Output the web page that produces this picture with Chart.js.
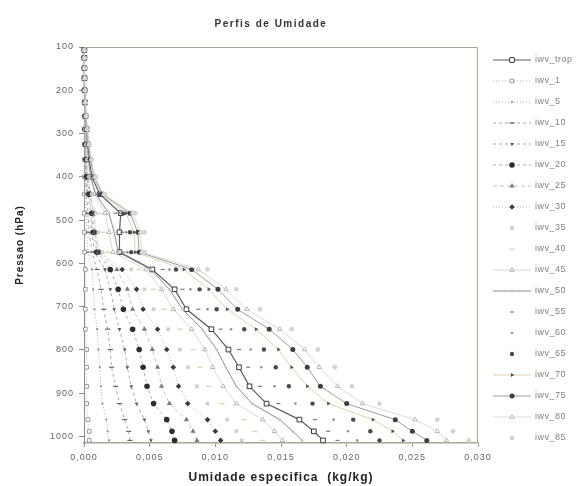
<!DOCTYPE html>
<html>
<head>
<meta charset="utf-8">
<script src="https://cdn.jsdelivr.net/npm/chart.js@4.4.1/dist/chart.umd.min.js"></script>
<style>
html, body { margin: 0; padding: 0; background: #fff; }
canvas { display: block; }
</style>
</head>
<body>
<canvas id="grafico" width="581" height="486"></canvas>
<script>
// niveis de pressao (hPa) comuns a todos os perfis
const niveis = [1009, 988, 961, 924, 884, 840, 799, 752, 706, 660, 614,
                574, 528, 484, 440, 400, 360, 325, 290, 260, 228, 200, 172, 149, 125, 107];

// umidade especifica (kg/kg), um valor por nivel
const iwvTrop = [0.0182, 0.0175, 0.0164, 0.0139, 0.0126, 0.0118, 0.0110, 0.0097, 0.0078, 0.0069, 0.0052,
                 0.0027, 0.0027, 0.0028, 0.0012, 0.0006, 0.0004, 0.0003, 0.0002, 0.00012, 0.00008, 0.00005, 0.00004, 0.00003, 0.00003, 0.00003];
const iwv1 = [0.0004, 0.0004, 0.0003, 0.0002, 0.0002, 0.0002, 0.0002, 0.0001, 0.0001, 0.0001, 0.0001,
              0.00005, 0.00004, 0.00003, 0.00003, 0.00002, 0.00002, 0.00002, 0.00002, 0.00002, 0.00002, 0.00002, 0.00002, 0.00002, 0.00002, 0.00002];
const iwv5 = [0.0019, 0.0018, 0.0017, 0.0014, 0.0013, 0.0012, 0.0011, 0.0010, 0.0008, 0.0007, 0.0006,
              0.0003, 0.0002, 0.0002, 0.0001, 0.0001, 0.00008, 0.00006, 0.00005, 0.00004, 0.00003, 0.00003, 0.00003, 0.00002, 0.00002, 0.00002];
const iwv10 = [0.0035, 0.0034, 0.0031, 0.0027, 0.0024, 0.0021, 0.0020, 0.0018, 0.0015, 0.0013, 0.0010,
               0.0006, 0.0004, 0.0003, 0.0002, 0.00012, 0.0001, 0.00008, 0.00006, 0.00005, 0.00004, 0.00003, 0.00003, 0.00002, 0.00002, 0.00002];
const iwv15 = [0.0051, 0.0049, 0.0046, 0.0040, 0.0036, 0.0033, 0.0031, 0.0027, 0.0023, 0.0020, 0.0016,
               0.0008, 0.0006, 0.0005, 0.0003, 0.00018, 0.00013, 0.0001, 0.00008, 0.00006, 0.00005, 0.00004, 0.00003, 0.00003, 0.00002, 0.00002];
const iwv20 = [0.0069, 0.0067, 0.0063, 0.0053, 0.0048, 0.0045, 0.0042, 0.0037, 0.0030, 0.0026, 0.0020,
               0.0010, 0.0007, 0.0006, 0.0004, 0.0002, 0.00015, 0.00011, 0.00009, 0.00007, 0.00005, 0.00004, 0.00003, 0.00003, 0.00002, 0.00002];
const iwv25 = [0.0086, 0.0083, 0.0078, 0.0065, 0.0059, 0.0056, 0.0052, 0.0046, 0.0037, 0.0033, 0.0025,
               0.0011, 0.0008, 0.0007, 0.0005, 0.0003, 0.00018, 0.00013, 0.0001, 0.00008, 0.00006, 0.00004, 0.00003, 0.00003, 0.00002, 0.00002];
const iwv30 = [0.0104, 0.0100, 0.0094, 0.0079, 0.0072, 0.0068, 0.0063, 0.0056, 0.0045, 0.0040, 0.0029,
               0.0012, 0.0009, 0.0008, 0.0005, 0.0003, 0.0002, 0.00015, 0.00011, 0.00008, 0.00006, 0.00005, 0.00004, 0.00003, 0.00002, 0.00002];
const iwv35 = [0.0120, 0.0116, 0.0109, 0.0094, 0.0086, 0.0079, 0.0073, 0.0064, 0.0053, 0.0046, 0.0036,
               0.0014, 0.0011, 0.0009, 0.0006, 0.0004, 0.00025, 0.00017, 0.00012, 0.00009, 0.00006, 0.00005, 0.00004, 0.00003, 0.00002, 0.00002];
const iwv40 = [0.0136, 0.0130, 0.0122, 0.0105, 0.0095, 0.0088, 0.0083, 0.0073, 0.0061, 0.0053, 0.0042,
               0.0018, 0.0015, 0.0012, 0.0007, 0.0004, 0.00028, 0.0002, 0.00014, 0.0001, 0.00007, 0.00005, 0.00004, 0.00003, 0.00003, 0.00002];
const iwv45 = [0.0151, 0.0145, 0.0136, 0.0116, 0.0106, 0.0098, 0.0092, 0.0082, 0.0068, 0.0059, 0.0047,
               0.0022, 0.0019, 0.0016, 0.0008, 0.0005, 0.0003, 0.00022, 0.00015, 0.0001, 0.00007, 0.00005, 0.00004, 0.00003, 0.00003, 0.00002];
const iwv50 = [0.0166, 0.0159, 0.0149, 0.0128, 0.0116, 0.0108, 0.0101, 0.0090, 0.0075, 0.0065, 0.0051,
               0.0026, 0.0023, 0.0019, 0.0009, 0.0005, 0.00035, 0.00025, 0.00017, 0.00011, 0.00008, 0.00006, 0.00004, 0.00003, 0.00003, 0.00002];
const iwv55 = [0.0193, 0.0186, 0.0176, 0.0148, 0.0134, 0.0125, 0.0118, 0.0104, 0.0087, 0.0075, 0.0060,
               0.0030, 0.0029, 0.0024, 0.0010, 0.0006, 0.0004, 0.00028, 0.00019, 0.00012, 0.00008, 0.00006, 0.00005, 0.00004, 0.00003, 0.00002];
const iwv60 = [0.0208, 0.0201, 0.0190, 0.0161, 0.0145, 0.0135, 0.0127, 0.0112, 0.0094, 0.0081, 0.0065,
               0.0033, 0.0032, 0.0027, 0.0011, 0.0006, 0.0004, 0.0003, 0.0002, 0.00013, 0.00009, 0.00006, 0.00005, 0.00004, 0.00003, 0.00002];
const iwv65 = [0.0225, 0.0218, 0.0205, 0.0174, 0.0156, 0.0146, 0.0137, 0.0122, 0.0101, 0.0088, 0.0070,
               0.0036, 0.0035, 0.0030, 0.0012, 0.0007, 0.00045, 0.00032, 0.00021, 0.00014, 0.00009, 0.00007, 0.00005, 0.00004, 0.00003, 0.00002];
const iwv70 = [0.0243, 0.0235, 0.0220, 0.0186, 0.0170, 0.0158, 0.0148, 0.0131, 0.0109, 0.0095, 0.0076,
               0.0039, 0.0038, 0.0032, 0.0013, 0.0007, 0.0005, 0.00034, 0.00022, 0.00015, 0.0001, 0.00007, 0.00005, 0.00004, 0.00003, 0.00002];
const iwv75 = [0.0261, 0.0250, 0.0237, 0.0200, 0.0180, 0.0170, 0.0159, 0.0141, 0.0117, 0.0102, 0.0082,
               0.0042, 0.0041, 0.0035, 0.0014, 0.0008, 0.0005, 0.00036, 0.00024, 0.00016, 0.0001, 0.00007, 0.00005, 0.00004, 0.00003, 0.00002];
const iwv80 = [0.0276, 0.0269, 0.0252, 0.0212, 0.0193, 0.0179, 0.0168, 0.0149, 0.0124, 0.0108, 0.0087,
               0.0044, 0.0043, 0.0037, 0.0015, 0.0008, 0.00055, 0.00038, 0.00025, 0.00017, 0.00011, 0.00008, 0.00006, 0.00004, 0.00003, 0.00002];
const iwv85 = [0.0293, 0.0281, 0.0269, 0.0225, 0.0204, 0.0191, 0.0178, 0.0158, 0.0134, 0.0116, 0.0094,
               0.0046, 0.0046, 0.0039, 0.0016, 0.0009, 0.0006, 0.0004, 0.00026, 0.00018, 0.00012, 0.00008, 0.00006, 0.00005, 0.00004, 0.00003];

const nomes = ['iwv_trop', 'iwv_1', 'iwv_5', 'iwv_10', 'iwv_15', 'iwv_20', 'iwv_25', 'iwv_30', 'iwv_35', 'iwv_40',
               'iwv_45', 'iwv_50', 'iwv_55', 'iwv_60', 'iwv_65', 'iwv_70', 'iwv_75', 'iwv_80', 'iwv_85'];
const perfis = [iwvTrop, iwv1, iwv5, iwv10, iwv15, iwv20, iwv25, iwv30, iwv35, iwv40,
                iwv45, iwv50, iwv55, iwv60, iwv65, iwv70, iwv75, iwv80, iwv85];

const ticksX = [0, 0.005, 0.010, 0.015, 0.020, 0.025, 0.030];
const ticksY = [100, 200, 300, 400, 500, 600, 700, 800, 900, 1000];

// aparencia de cada serie (linha: null = so marcadores)
const estilos = [
    { linha: '#5c5c5c', larg: 1.2, traco: [],     ponto: 'rect',     raio: 3.3, fundo: '#ffffff', borda: '#3a3a3a', bl: 1 },
    { linha: '#b8b8b8', larg: 1,   traco: [1, 2], ponto: 'rect',     raio: 2.6, fundo: '#ffffff', borda: '#9a9a9a', bl: 1 },
    { linha: '#b0b0b0', larg: 1,   traco: [1, 2], ponto: 'circle',   raio: 1.1, fundo: '#8a8a8a', borda: '#8a8a8a', bl: 0 },
    { linha: '#a8a8a8', larg: 1,   traco: [3, 3], ponto: 'line',     raio: 2.6, fundo: '#666666', borda: '#666666', bl: 1.2 },
    { linha: '#a8a8a8', larg: 1,   traco: [3, 3], ponto: 'triangle', raio: 2.2, fundo: '#5a5a5a', borda: '#5a5a5a', bl: 0, rot: 180 },
    { linha: '#b0b0b0', larg: 1,   traco: [3, 3], ponto: 'circle',   raio: 2.8, fundo: '#2e2e2e', borda: '#2e2e2e', bl: 0 },
    { linha: '#c4c4c4', larg: 1,   traco: [4, 3], ponto: 'triangle', raio: 3,   fundo: '#7a7a7a', borda: '#7a7a7a', bl: 0 },
    { linha: '#b4b4b4', larg: 1,   traco: [1, 2], ponto: 'rectRot',  raio: 2.8, fundo: '#3c3c3c', borda: '#3c3c3c', bl: 0 },
    { linha: null,                                ponto: 'rect',     raio: 2.6, fundo: '#cfcfcf', borda: '#cfcfcf', bl: 0 },
    { linha: null,                                ponto: 'line',     raio: 2.6, fundo: '#d6d2b0', borda: '#d6d2b0', bl: 1.2 },
    { linha: '#cfcfcf', larg: 0.8, traco: [],     ponto: 'triangle', raio: 2.6, fundo: '#ffffff', borda: '#b4b4b4', bl: 1 },
    { linha: '#8a8aa0', larg: 1,   traco: [],     ponto: 'circle',   raio: 1.5, fundo: '#c8c8c8', borda: '#c8c8c8', bl: 0 },
    { linha: null,                                ponto: 'line',     raio: 2,   fundo: '#7a7a7a', borda: '#7a7a7a', bl: 1.2 },
    { linha: null,                                ponto: 'circle',   raio: 1.3, fundo: '#8e8e8e', borda: '#8e8e8e', bl: 0 },
    { linha: null,                                ponto: 'circle',   raio: 2.2, fundo: '#4a4a4a', borda: '#4a4a4a', bl: 0 },
    { linha: '#dcd4a8', larg: 1,   traco: [],     ponto: 'triangle', raio: 2.3, fundo: '#4e4e4e', borda: '#4e4e4e', bl: 0, rot: 90 },
    { linha: '#9c9c9c', larg: 1,   traco: [],     ponto: 'circle',   raio: 2.5, fundo: '#3e3e3e', borda: '#3e3e3e', bl: 0 },
    { linha: '#d0d0dc', larg: 0.8, traco: [],     ponto: 'triangle', raio: 2.6, fundo: '#ffffff', borda: '#b8b8b8', bl: 1 },
    { linha: null,                                ponto: 'circle',   raio: 2.4, fundo: '#d4d4d4', borda: '#d4d4d4', bl: 0 }
];

const conjuntos = perfis.map(function(serie, i) {
    const e = estilos[i];
    return {
        label: nomes[i],
        data: serie.map(function(q, k) { return { x: q, y: niveis[k] }; }),
        showLine: e.linha !== null,
        borderColor: e.linha || 'rgba(0,0,0,0)',
        borderWidth: e.larg || 0,
        borderDash: e.traco || [],
        pointStyle: e.ponto,
        pointRadius: e.raio,
        pointRotation: e.rot || 0,
        pointBackgroundColor: e.fundo,
        pointBorderColor: e.borda,
        pointBorderWidth: e.bl,
        tension: 0,
        fill: false,
        clip: false,
        order: -i   // como no Excel: a ultima serie fica por cima
    };
});

const fonte = '"Liberation Sans", Arial, sans-serif';

const moldura = {
    id: 'moldura',
    beforeDraw(chart) {
        chart.ctx.letterSpacing = '1px';
    },
    afterDraw(chart) {
        const ctx = chart.ctx;
        const a = chart.chartArea;
        ctx.save();
        ctx.strokeStyle = '#a9a796';
        ctx.lineWidth = 1;
        ctx.beginPath();
        ctx.moveTo(a.left, a.top + 0.5);
        ctx.lineTo(a.right - 0.5, a.top + 0.5);
        ctx.lineTo(a.right - 0.5, a.bottom);
        ctx.stroke();

        // titulo
        ctx.letterSpacing = '1.5px';
        ctx.fillStyle = '#333';
        ctx.font = 'bold 10px ' + fonte;
        ctx.textAlign = 'center';
        ctx.textBaseline = 'middle';
        ctx.fillText('Perfis de Umidade', 271, 24);

        // legenda
        ctx.letterSpacing = '0.5px';
        ctx.textAlign = 'left';
        ctx.font = '9px ' + fonte;
        chart.data.datasets.forEach(function(ds, i) {
            const y = 60 + i * 21;
            if (ds.showLine) {
                ctx.strokeStyle = ds.borderColor;
                ctx.lineWidth = ds.borderWidth;
                ctx.setLineDash(ds.borderDash);
                ctx.beginPath();
                ctx.moveTo(493, y);
                ctx.lineTo(531, y);
                ctx.stroke();
            }
            ctx.setLineDash([]);
            ctx.fillStyle = ds.pointBackgroundColor;
            ctx.strokeStyle = ds.pointBorderColor;
            ctx.lineWidth = ds.pointBorderWidth;
            Chart.helpers.drawPoint(ctx, {
                pointStyle: ds.pointStyle,
                rotation: ds.pointRotation,
                radius: ds.pointRadius,
                borderWidth: ds.pointBorderWidth
            }, 512, y);
            ctx.fillStyle = '#808080';
            ctx.fillText(nomes[i], 535, y);
        });
        ctx.restore();
    }
};

new Chart(document.getElementById('grafico'), {
    type: 'line',
    data: { datasets: conjuntos },
    plugins: [moldura],
    options: {
        responsive: false,
        animation: false,
        events: [],
        layout: { padding: { top: 47, right: 103, left: 0, bottom: 0 } },
        plugins: {
            legend: { display: false },
            tooltip: { enabled: false },
            title: { display: false }
        },
        scales: {
            x: {
                type: 'linear',
                position: 'bottom',
                min: 0,
                max: 0.03,
                afterFit: function(s) { s.height = 43; },
                afterBuildTicks: function(s) { s.ticks = ticksX.map(function(v) { return { value: v }; }); },
                grid: { display: true, drawOnChartArea: false, drawTicks: true, tickLength: 4, color: '#9a9a8a' },
                border: { display: true, color: '#a9a796', width: 1.5 },
                ticks: {
                    padding: 5,
                    color: '#666',
                    font: { family: fonte, size: 9 },
                    maxRotation: 0,
                    callback: function(v) { return v.toFixed(3).replace('.', ','); }
                },
                title: {
                    display: true,
                    text: 'Umidade especifica  (kg/kg)',
                    color: '#222',
                    font: { family: fonte, size: 12, weight: 'bold' },
                    padding: { top: 2, bottom: 1 }
                }
            },
            y: {
                type: 'linear',
                reverse: true,
                min: 100,
                max: 1015,
                afterFit: function(s) { s.width = 84; },
                afterBuildTicks: function(s) { s.ticks = ticksY.map(function(v) { return { value: v }; }); },
                grid: { display: true, drawOnChartArea: false, drawTicks: true, tickLength: 5, color: '#8a8a8a' },
                border: { display: true, color: '#8a8a8a', width: 1 },
                ticks: {
                    padding: 5,
                    color: '#666',
                    font: { family: fonte, size: 9 },
                    callback: function(v) { return String(v); }
                },
                title: {
                    display: true,
                    text: 'Pressao (hPa)',
                    color: '#222',
                    font: { family: fonte, size: 10, weight: 'bold' },
                    padding: { top: 14, bottom: 2 }
                }
            }
        }
    }
});
</script>
</body>
</html>
